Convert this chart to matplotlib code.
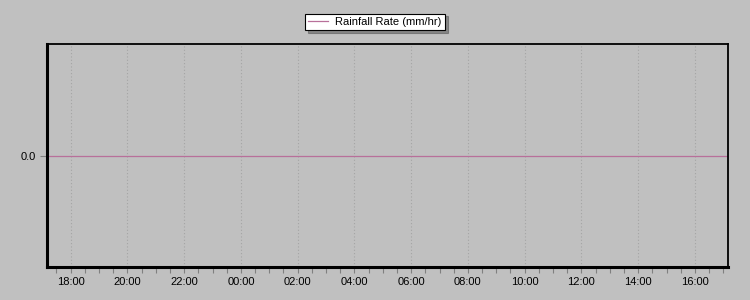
"""
Rainfall rate over the last 24 hours (flat at zero).
"""

import pandas as pd
import matplotlib
matplotlib.use('Agg')
import matplotlib.pyplot as plt
import matplotlib.dates as mdates


# data
start = '2024-01-01 17:10'
end = '2024-01-02 17:10'
times = pd.date_range(start, end, freq='1h')
rain_rate = [0.0, 0.0, 0.0, 0.0, 0.0, 0.0, 0.0, 0.0, 0.0, 0.0, 0.0, 0.0, 0.0,
             0.0, 0.0, 0.0, 0.0, 0.0, 0.0, 0.0, 0.0, 0.0, 0.0, 0.0, 0.0]
series_label = 'Rainfall Rate (mm/hr)'
line_color = '#b8709a'
bg = '#c0c0c0'

plt.rcParams['font.family'] = ['Liberation Sans', 'DejaVu Sans']

fig = plt.figure(figsize=(7.5, 3.0), dpi=100, facecolor=bg)
ax = fig.add_axes([0.0627, 0.11, 0.908, 0.743], facecolor=bg)

line, = ax.plot(times, rain_rate, color=line_color, lw=0.9, label=series_label)

ax.set_xlim(pd.Timestamp(start), pd.Timestamp(end))
ax.set_ylim(-1, 1)
ax.set_yticks([0.0])
ax.set_yticklabels(['0.0'])

ax.xaxis.set_major_locator(mdates.HourLocator(byhour=range(0, 24, 2)))
ax.xaxis.set_minor_locator(mdates.MinuteLocator(byminute=[0, 30]))
ax.xaxis.set_major_formatter(mdates.DateFormatter('%H:%M'))
ax.grid(axis='x', which='major', color='#a4a4a4', ls=(0, (1, 2)), lw=0.8)

ax.tick_params(axis='x', which='both', direction='out', length=4, width=0.8,
               color='#808080', labelsize=8, pad=3, labelcolor='black')
ax.tick_params(axis='y', direction='out', length=5, width=0.8,
               color='#808080', labelsize=8, pad=3)

for side in ['left', 'bottom']:
    ax.spines[side].set_linewidth(2.2)
    ax.spines[side].set_color('black')
for side in ['top', 'right']:
    ax.spines[side].set_linewidth(1.3)
    ax.spines[side].set_color('black')

leg = fig.legend(handles=[line], loc='center', bbox_to_anchor=(0.5, 0.927),
                 fontsize=8, frameon=True, fancybox=False, shadow=True,
                 handlelength=1.8, borderpad=0.3, handletextpad=0.6,
                 borderaxespad=0)
leg.get_frame().set_edgecolor('black')
leg.get_frame().set_linewidth(0.8)
leg.get_frame().set_facecolor('white')
leg.get_frame().set_alpha(1)

plt.savefig('out.png', dpi=100, facecolor=bg)
